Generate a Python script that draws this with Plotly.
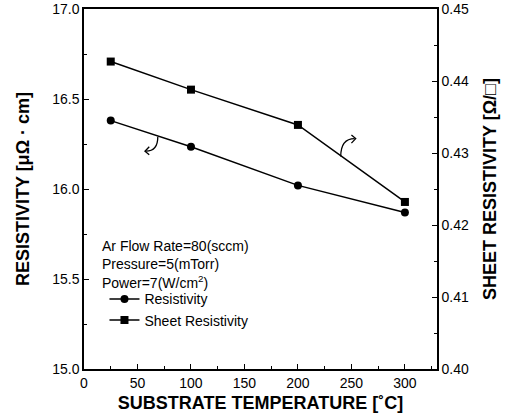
import plotly.graph_objects as go

temps = [25, 100, 200, 300]
resistivity = [16.38, 16.235, 16.02, 15.87]
sheet_resistivity = [0.4427, 0.4388, 0.4339, 0.4232]

conditions = ["Ar Flow Rate=80(sccm)", "Pressure=5(mTorr)", "Power=7(W/cm<sup>2</sup>)"]

FONT = "Liberation Sans, Arial, sans-serif"

fig = go.Figure()
fig.add_trace(go.Scatter(
    x=temps, y=resistivity, name="Resistivity", mode="lines+markers",
    line=dict(color="black", width=1.5),
    marker=dict(symbol="circle", size=8, color="black"),
    yaxis="y"))
fig.add_trace(go.Scatter(
    x=temps, y=sheet_resistivity, name="Sheet Resistivity", mode="lines+markers",
    line=dict(color="black", width=1.5),
    marker=dict(symbol="square", size=8, color="black"),
    yaxis="y2"))

# condition text
for i, t in enumerate(conditions):
    fig.add_annotation(xref="paper", yref="paper", x=0.045, y=0.342 - i * 0.05,
                       text=t, showarrow=False, xanchor="left", yanchor="middle",
                       font=dict(family=FONT, size=14, color="black"))

# curved arrows pointing to each series' axis
fig.add_shape(type="path", xref="x", yref="y",
              path="M 69,16.29 Q 69,16.21 58,16.21",
              line=dict(color="black", width=1.3))
fig.add_shape(type="path", xref="x", yref="y",
              path="M 61,16.235 L 57,16.21 L 61,16.19",
              line=dict(color="black", width=1.3))
fig.add_shape(type="path", xref="x", yref="y",
              path="M 240,16.18 Q 240,16.28 253,16.28",
              line=dict(color="black", width=1.3))
fig.add_shape(type="path", xref="x", yref="y",
              path="M 250,16.30 L 254,16.28 L 250,16.255",
              line=dict(color="black", width=1.3))

axis_common = dict(showline=True, linecolor="black", linewidth=1.5,
                   ticks="inside", ticklen=5, tickcolor="black", tickwidth=1,
                   showgrid=False, zeroline=False, automargin=False,
                   tickfont=dict(family=FONT, size=14, color="black"))

fig.update_layout(
    width=506, height=418,
    margin=dict(l=84, r=69, t=9, b=49),
    paper_bgcolor="white", plot_bgcolor="white",
    showlegend=True,
    legend=dict(x=0.058, y=0.238, xanchor="left", yanchor="top",
                bgcolor="rgba(0,0,0,0)",
                font=dict(family=FONT, size=14, color="black"),
                itemwidth=30, tracegroupgap=0),
    xaxis=dict(range=[0, 330], tickvals=[0, 50, 100, 150, 200, 250, 300],
               minor=dict(dtick=25, ticks="inside", ticklen=3, tickcolor="black"),
               mirror=True,
               title=dict(text="<b>SUBSTRATE TEMPERATURE [˚C]</b>", standoff=7,
                          font=dict(family=FONT, size=18, color="black")),
               **axis_common),
    yaxis=dict(range=[15.0, 17.0], dtick=0.5, tickformat=".1f",
               minor=dict(dtick=0.25, ticks="inside", ticklen=3, tickcolor="black"),
               title=dict(text="<b>RESISTIVITY [μΩ · cm]</b>", standoff=18,
                          font=dict(family=FONT, size=18, color="black")),
               **axis_common),
    yaxis2=dict(range=[0.40, 0.45], dtick=0.01, tickformat=".2f",
                overlaying="y", side="right",
                minor=dict(dtick=0.005, ticks="inside", ticklen=3, tickcolor="black"),
                title=dict(text="<b>SHEET RESISTIVITY [Ω/□]</b>", standoff=15,
                           font=dict(family=FONT, size=18, color="black")),
                **axis_common),
)

# remove the default page margin so the figure sits at the window's corner
fig.write_html("out.html", config={"displayModeBar": False},
               post_script="document.body.style.margin='0';")
